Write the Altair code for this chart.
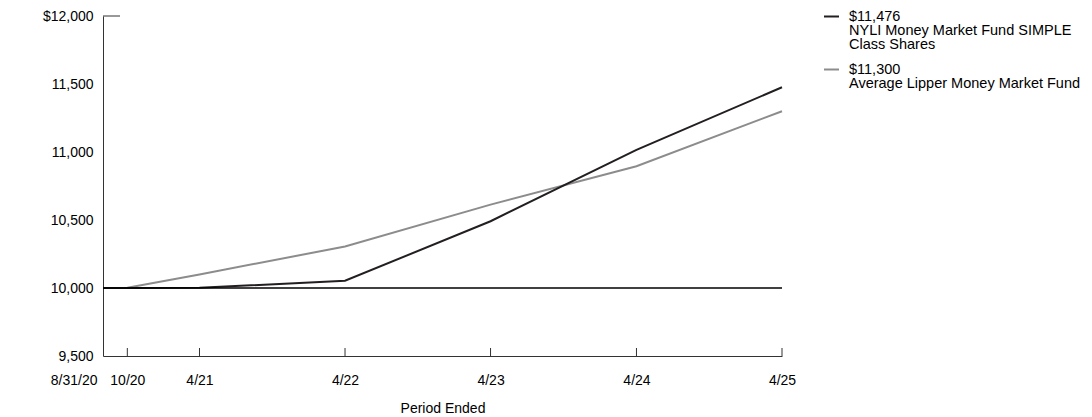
import altair as alt
import pandas as pd

# ---- data ----
dates = ["2020-08-31", "2020-10-31", "2021-04-30", "2022-04-30",
         "2023-04-30", "2024-04-30", "2025-04-30"]
tick_labels = ["8/31/20", "10/20", "4/21", "4/22", "4/23", "4/24", "4/25"]
fund_name = "NYLI Money Market Fund SIMPLE Class Shares"
lipper_name = "Average Lipper Money Market Fund"
fund_values = [10000, 10000, 10001, 10053, 10491, 11016, 11476]
lipper_values = [10000, 10002, 10100, 10305, 10613, 10895, 11300]
fund_legend = ["$11,476", "NYLI Money Market Fund SIMPLE", "Class Shares"]
lipper_legend = ["$11,300", "Average Lipper Money Market Fund", ""]
y_ticks = [9500, 10000, 10500, 11000, 11500, 12000]
y_tick_labels = ["9,500", "10,000", "10,500", "11,000", "11,500", "$12,000"]
baseline_value = [10000]

FONT = "Liberation Sans"
W, H = 679, 340

df = pd.DataFrame({
    "date": dates * 2,
    "value": fund_values + lipper_values,
    "series": [fund_name] * len(dates) + [lipper_name] * len(dates),
})

ts = [int(pd.Timestamp(d).value // 10**6) for d in dates]
x_label_map = "{" + ", ".join(f"'{t}': '{l}'" for t, l in zip(ts, tick_labels)) + "}"
y_label_map = "{" + ", ".join(f"'{v}': '{l}'" for v, l in zip(y_ticks, y_tick_labels)) + "}"


def dt(s):
    t = pd.Timestamp(s)
    return alt.DateTime(year=t.year, month=t.month, date=t.day, utc=True)


xscale = alt.Scale(type="utc", domain=[dt(dates[0]), dt(dates[-1])], nice=False)
yscale = alt.Scale(domain=[y_ticks[0], y_ticks[-1]], nice=False, zero=False)

xaxis = alt.Axis(
    values=[dt(d) for d in dates],
    labelExpr=f"{x_label_map}[datum.value + '']",
    labelAlign={"condition": {"test": f"datum.value == {ts[0]}", "value": "right"}, "value": "center"},
    labelOffset={"condition": {"test": f"datum.value == {ts[0]}", "value": -6}, "value": 0},
    ticks=False, grid=False, domainColor="#333333", domainWidth=1,
    labelPadding=17, labelFontSize=14, labelFont=FONT, labelColor="black",
    titleFontSize=14, titleFont=FONT, titleFontWeight="normal", titleColor="black",
    titlePadding=14,
)
yaxis = alt.Axis(
    values=y_ticks,
    labelExpr=f"{y_label_map}[datum.value + '']",
    ticks=False, grid=False, domainColor="#333333", domainWidth=1,
    labelPadding=10, labelFontSize=14, labelFont=FONT, labelColor="black",
)

color = alt.Color(
    "series:N",
    scale=alt.Scale(domain=[fund_name, lipper_name], range=["#231f20", "#8c8c8c"]),
    legend=alt.Legend(
        title=None, orient="none", legendX=720, legendY=-8,
        symbolType="stroke", symbolStrokeWidth=2, symbolSize=225,
        labelFont=FONT, labelFontSize=14.5, labelColor="black", labelLimit=400,
        labelOffset=9, rowPadding=10, padding=0,
        labelExpr=(f"datum.label == '{fund_name}' ? {fund_legend} : {lipper_legend}"),
    ),
)

X = alt.X("date:T", scale=xscale, axis=xaxis, title="Period Ended")
Y = alt.Y("value:Q", scale=yscale, axis=yaxis, title=None)

lipper = alt.Chart(df).transform_filter(f"datum.series == '{lipper_name}'").mark_line(
    strokeWidth=2).encode(x=X, y=Y, color=color)
fund = alt.Chart(df).transform_filter(f"datum.series == '{fund_name}'").mark_line(
    strokeWidth=2).encode(x=X, y=Y, color=color)

base_rule = alt.Chart(pd.DataFrame({"value": baseline_value})).mark_rule(
    color="black", strokeWidth=1.5).encode(y=Y)

top_tick = alt.Chart(pd.DataFrame({"value": [y_ticks[-1]]})).mark_rule(
    color="#333333", strokeWidth=1).encode(y=Y, x=alt.value(0), x2=alt.value(17))

xticks = alt.Chart(pd.DataFrame({"date": dates[1:]})).mark_rule(
    color="#333333", strokeWidth=1).encode(x=X, y=alt.value(H - 8), y2=alt.value(H))

chart = alt.layer(lipper, fund, base_rule, top_tick, xticks).properties(
    width=W, height=H,
    autosize=alt.AutoSizeParams(type="none"),
    padding={"left": 95, "top": 8, "right": 302, "bottom": 59},
).configure(
    background="white",
    style={"guide-label": {"lineHeight": 14}},
).configure_view(stroke=None)

chart.save("out.html", embed_options={"renderer": "svg", "actions": False})
